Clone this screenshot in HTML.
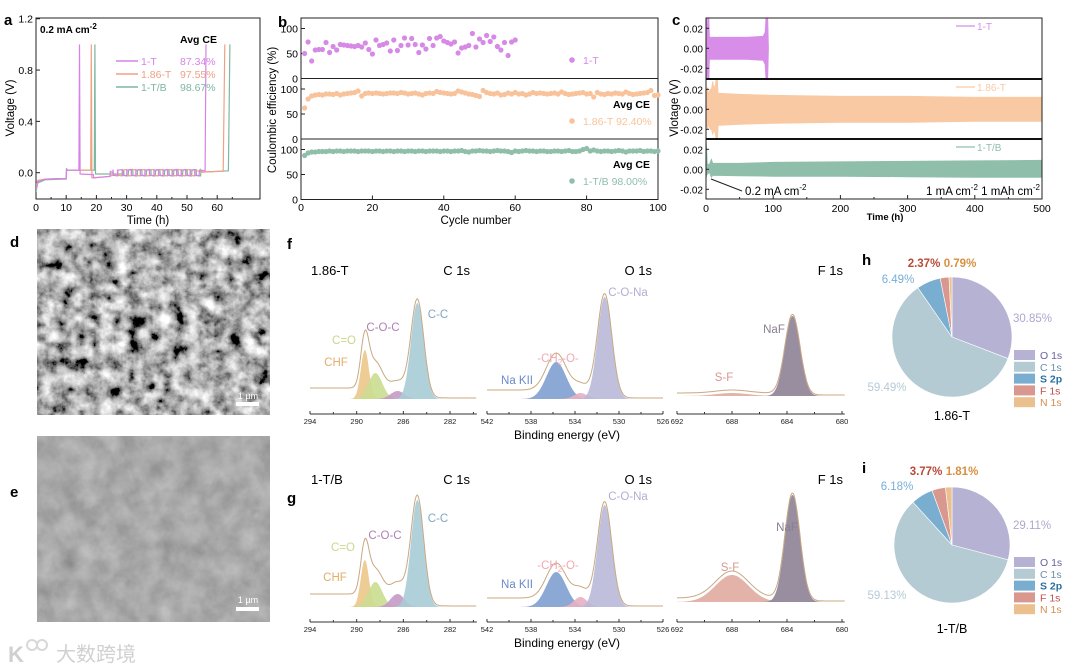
<!DOCTYPE html>
<html><head><meta charset="utf-8"><style>
body{margin:0;background:#fff}
svg{display:block;font-family:"Liberation Sans","Noto Sans CJK SC",sans-serif}
</style></head><body>
<svg id="fig" width="1080" height="666" viewBox="0 0 1080 666" xmlns="http://www.w3.org/2000/svg">
<defs>
<filter id="rough" x="0" y="0" width="100%" height="100%"><feTurbulence type="fractalNoise" baseFrequency="0.07" numOctaves="5" seed="3"/><feColorMatrix type="matrix" values="0.33 0.33 0.33 0 0  0.33 0.33 0.33 0 0  0.33 0.33 0.33 0 0  0 0 0 0 1"/><feComponentTransfer><feFuncR type="linear" slope="3" intercept="-1.05"/><feFuncG type="linear" slope="3" intercept="-1.05"/><feFuncB type="linear" slope="3" intercept="-1.05"/></feComponentTransfer></filter>
<filter id="smooth" x="0" y="0" width="100%" height="100%"><feTurbulence type="fractalNoise" baseFrequency="0.05" numOctaves="4" seed="8"/><feColorMatrix type="matrix" values="0.33 0.33 0.33 0 0  0.33 0.33 0.33 0 0  0.33 0.33 0.33 0 0  0 0 0 0 1"/><feComponentTransfer><feFuncR type="linear" slope="0.5" intercept="0.15"/><feFuncG type="linear" slope="0.5" intercept="0.15"/><feFuncB type="linear" slope="0.5" intercept="0.15"/></feComponentTransfer></filter>
<clipPath id="clipA"><rect x="36" y="18" width="224" height="181"/></clipPath>
<clipPath id="clipC0"><rect x="706" y="18" width="336" height="61"/></clipPath>
<clipPath id="clipC1"><rect x="706" y="79" width="336" height="60"/></clipPath>
<clipPath id="clipC2"><rect x="706" y="139" width="336" height="60"/></clipPath>
</defs>

<g font-weight="bold" font-size="15" fill="#000">
<text x="4" y="25">a</text>
<text x="278" y="27">b</text>
<text x="672" y="25">c</text>
<text x="10" y="247">d</text>
<text x="10" y="497">e</text>
<text x="287" y="249">f</text>
<text x="287" y="503">g</text>
<text x="862" y="265">h</text>
<text x="862" y="473">i</text>
</g>

<g>
<rect x="37" y="229" width="233" height="186" fill="#888" filter="url(#rough)"/>
<rect x="236" y="402" width="23" height="4" fill="#fff"/>
<text x="248" y="399" font-size="9" fill="#fff" text-anchor="middle">1 µm</text>
</g>
<g>
<rect x="37" y="436" width="233" height="186" fill="#6b6b6b" filter="url(#smooth)"/>
<rect x="236" y="607" width="23" height="4" fill="#fff"/>
<text x="248" y="603" font-size="9" fill="#fff" text-anchor="middle">1 µm</text>
</g>
<g fill="#d0d0d0" stroke="#d8d8d8">
<text x="8" y="662" font-size="22" stroke="none" font-weight="bold">K</text>
<circle cx="32" cy="645" r="5" fill="none" stroke-width="2"/><circle cx="42" cy="645" r="5" fill="none" stroke-width="2"/>
<text x="56" y="661" font-size="20" stroke="none">大数跨境</text>
</g>

<g id="gA"></g>
<g id="gB"></g>
<g id="gC"></g>
<g id="gF"></g>
<g id="gG"></g>
<g id="gH"></g>
<g id="gI"></g>
</svg>
<script>
// ---------- Panel a data ----------
const aSeriesNames = ["1-T","1.86-T","1-T/B"];
const aColors = ["#d583e8","#f0a184","#7fb7a0"];
const aAvgCE = ["87.34%","97.55%","98.67%"];
const aKnots1T = [[0,-0.13],[0.6,-0.07],[3,-0.05],[10,-0.045],[10.1,0.02],[14.2,0.02],[14.4,1.0],[14.6,-0.01],[19,-0.015],[19.1,-0.04],[24.5,-0.03],[24.6,0.01],[25.5,0.0]];
const aKnots186 = [[0,-0.1],[0.6,-0.06],[3,-0.05],[10,-0.045],[10.1,0.02],[18.1,0.02],[18.3,1.0],[18.5,-0.04],[24,-0.03],[27,-0.01]];
const aKnotsTB = [[0,-0.15],[0.6,-0.08],[3,-0.055],[10,-0.05],[10.1,0.035],[10.3,0.02],[19.3,0.02],[19.5,1.0],[19.7,-0.01],[29,-0.01]];
const aOscStart = [25.5,27,29];
const aOscEnd = [55,54,55];
const aOscAmp = [0.025,0.025,0.025];
const aTail1T = [[56,0.015],[56.3,1.0]];
const aTail186 = [[55,0.005],[62,0.012],[62.5,1.0]];
const aTailTB = [[55,0.005],[63.7,0.015],[64.2,1.0]];
const aXTicks = [0,10,20,30,40,50,60];
const aYTicks = [0.0,0.4,0.8,1.2];

// ---------- Panel b data ----------
const bCE1T = [50,73,35,57,58,58,72,52,64,57,68,67,66,65,64,66,63,71,58,49,77,66,68,71,55,77,56,66,81,67,80,68,52,67,59,80,66,81,84,75,72,69,73,51,61,63,66,90,63,79,72,86,74,83,64,57,72,46,73,77];
const bCE186 = [62,80,86,88,89,88,90,90,89,91,88,90,91,92,93,96,86,91,92,91,92,91,90,91,92,92,91,93,92,90,91,92,90,88,91,92,91,95,93,92,91,90,91,96,94,92,90,89,87,85,97,93,91,90,92,88,89,92,90,93,90,91,88,90,93,91,92,91,90,91,92,90,94,91,89,90,91,92,93,90,91,84,93,90,89,91,90,92,91,90,94,91,89,90,91,92,93,97,87,88];
const bCETB = [88,93,95,95,96,96,96,97,96,97,97,96,97,97,97,96,97,97,97,96,97,97,96,97,97,96,97,97,96,97,97,96,97,97,96,97,97,97,96,97,97,96,97,97,98,96,95,97,97,98,97,97,96,97,98,97,97,96,94,97,96,97,98,97,97,96,97,97,96,96,97,97,96,97,98,96,96,97,100,102,97,99,97,96,97,97,96,97,98,97,95,97,97,97,98,96,97,97,96,97];
const bColors = ["#d68ae6","#f8c29a","#8fbfaa"];
const bXTicks = [0,20,40,60,80,100];
const bYTicks = [0,50,100];

// ---------- Panel c data ----------
const cT1T = [0,1,2,3,4,5,6,10,30,60,85,88,90,91.5,93];
const cHi1T = [0.04,0.04,-0.005,0.04,0.04,0.012,0.011,0.011,0.011,0.011,0.012,0.016,0.04,0.04,0.0];
const cLo1T = [-0.04,-0.04,0.0,-0.04,-0.04,-0.012,-0.011,-0.011,-0.011,-0.011,-0.012,-0.016,-0.04,-0.04,0.0];
const cT186 = [0,2,4,6,8,10,12,14,15,17,18,20,50,100,200,300,400,500];
const cHi186 = [0.005,0.022,0.015,0.02,0.02,0.028,0.02,0.025,0.03,0.03,0.016,0.016,0.015,0.014,0.013,0.013,0.012,0.012];
const cLo186 = [-0.005,-0.02,-0.015,-0.02,-0.02,-0.025,-0.02,-0.025,-0.03,-0.035,-0.016,-0.016,-0.015,-0.014,-0.013,-0.013,-0.012,-0.012];
const cTTB = [0,1,2,5,8,10,50,100,200,300,400,500];
const cHiTB = [0.03,0.02,0.005,0.005,0.01,0.006,0.006,0.007,0.0075,0.008,0.0085,0.009];
const cLoTB = [-0.01,-0.005,-0.005,-0.003,-0.008,-0.006,-0.0065,-0.007,-0.007,-0.0075,-0.008,-0.008];
const cColors = ["#d88ee9","#f9c9a3","#8fbfaa"];
const cXTicks = [0,100,200,300,400,500];
const cYTicks = [0.02,0.0,-0.02];

// ---------- XPS data ----------
const cPeakNames = ["CHF","C=O","C-O-C","C-C"];
const cPeakCenters = [289.3,288.4,286.5,284.8];
const cPeakSigmas = [0.35,0.6,0.6,0.55];
const cPeakHeightsF = [49,26,8,96];
const cPeakHeightsG = [47,25,13,107];
const oPeakNames = ["Na KII","-CH2-O-","C-O-Na"];
const oPeakCenters = [535.7,533.5,531.3];
const oPeakSigmas = [0.9,0.6,0.65];
const oPeakHeightsF = [37,6,102];
const oPeakHeightsG = [35,10,102];
const fPeakNames = ["S-F","NaF"];
const fPeakCenters = [688.0,683.6];
const fPeakSigmas = [1.2,0.55];
const fPeakHeightsF = [3,80];
const fPeakHeightsG = [27,107];
const cBg = [10,12]; const oBg = [8,8]; const fBg = [2,3];
const cTicks = [294,290,286,282];
const oTicks = [542,538,534,530,526];
const fTicks = [692,688,684,680];

// ---------- Pie data ----------
const pieLabels = ["O 1s","C 1s","S 2p","F 1s","N 1s"];
const pieH = [30.85,59.49,6.49,2.37,0.79];
const pieI = [29.11,59.13,6.18,3.77,1.81];
const pieColors = ["#b5b2d3","#b4cbd3","#7aaed0","#d9988f","#ebc08f"];
const pieTextColors = ["#aca8cf","#b6cad6","#78aed6","#b84a38","#d89040"];
const pieLegendColors = ["#6a60a0","#6a90a8","#2a6fa0","#c0504a","#d09050"];

const NS="http://www.w3.org/2000/svg";
function mk(parent,tag,attrs,text){const e=document.createElementNS(NS,tag);for(const k in attrs)e.setAttribute(k,attrs[k]);if(text!==undefined)e.textContent=text;parent.appendChild(e);return e;}

// ===== Panel a =====
(function(){
const g=document.getElementById('gA');
const X=t=>36+t*3.02, Y=v=>172.7-v*128.3;
const box=mk(g,'rect',{x:36,y:18,width:224,height:181,fill:'none',stroke:'#222','stroke-width':1});


aXTicks.forEach(t=>{mk(g,'line',{x1:X(t),x2:X(t),y1:199,y2:195,stroke:'#222'});
 const tx=mk(g,'text',{x:X(t),y:211,'font-size':10.5,'text-anchor':'middle'},String(t));
 
 });
for(let t=5;t<74;t+=10)mk(g,'line',{x1:X(t),x2:X(t),y1:199,y2:197,stroke:'#222'});
aYTicks.forEach(v=>{mk(g,'line',{x1:36,x2:40,y1:Y(v),y2:Y(v),stroke:'#222'});
 const tx=mk(g,'text',{x:33,y:Y(v)+4,'font-size':10.5,'text-anchor':'end'},v.toFixed(1));
 
 });
const xt=mk(g,'text',{x:148,y:224,'font-size':11.5,'text-anchor':'middle'},'Time (h)');


const yt=mk(g,'text',{x:0,y:0,'font-size':11.5,'text-anchor':'middle',transform:'translate(14,108) rotate(-90)'},'Voltage (V)');


const knots=[aKnots1T,aKnots186,aKnotsTB], tails=[aTail1T,aTail186,aTailTB];
const cg=mk(g,'g',{'clip-path':'url(#clipA)'});
[2,1,0].forEach(i=>{
 let pts=knots[i].slice();
 let t=aOscStart[i],s=1;
 while(t<aOscEnd[i]){pts.push([t,s*aOscAmp[i]]);pts.push([t+0.15,-s*aOscAmp[i]*0.8]);t+=1.5;s=-s;}
 pts=pts.concat(tails[i]);
 const p=mk(cg,'polyline',{points:pts.map(q=>X(q[0]).toFixed(1)+','+Y(q[1]).toFixed(1)).join(' '),fill:'none',stroke:aColors[i],'stroke-width':1.2});
 
 
});
const cur=mk(g,'text',{x:40,y:33,'font-size':10,'font-weight':'bold'},'');
cur.innerHTML='0.2 mA cm<tspan dy="-4" font-size="8">-2</tspan>';


const avg=mk(g,'text',{x:180,y:43,'font-size':10.5,'font-weight':'bold'},'Avg CE');


aSeriesNames.forEach((n,i)=>{const y=61+i*13;
 const le=mk(g,'g',{});
 
 
 mk(le,'line',{x1:116,x2:138,y1:y,y2:y,stroke:aColors[i],'stroke-width':1.5});
 mk(le,'text',{x:141,y:y+4,'font-size':10.5,fill:aColors[i]},n);
 mk(le,'text',{x:180,y:y+4,'font-size':10.5,fill:aColors[i]},aAvgCE[i]);});
})();

// ===== Panel b =====
(function(){
const g=document.getElementById('gB');
const X=c=>301+c*3.57;
const tops=[18,78.5,139];
const data=[bCE1T,bCE186,bCETB];
tops.forEach((y0,k)=>{
 const Y=v=>y0+60.5-v*0.5;
 const fr=mk(g,'rect',{x:301,y:y0,width:357,height:60.5,fill:'none',stroke:'#222'});
 
 
 bYTicks.forEach(v=>{mk(g,'line',{x1:301,x2:305,y1:Y(v),y2:Y(v),stroke:'#222'});
  const t=mk(g,'text',{x:298,y:Y(v)+4,'font-size':10.5,'text-anchor':'end'},String(v));
  
  });
 data[k].forEach((v,i)=>{const c=mk(g,'circle',{cx:X(i+1).toFixed(1),cy:Y(v).toFixed(1),r:2.6,fill:bColors[k]});
  
  });
});
bXTicks.forEach(c=>{mk(g,'line',{x1:X(c),x2:X(c),y1:199.5,y2:195.5,stroke:'#222'});
 const t=mk(g,'text',{x:X(c),y:211,'font-size':10.5,'text-anchor':'middle'},String(c));
 
 });
const xt=mk(g,'text',{x:476,y:224,'font-size':11.5,'text-anchor':'middle'},'Cycle number');


const yt=mk(g,'text',{x:0,y:0,'font-size':11.5,'text-anchor':'middle',transform:'translate(276,110) rotate(-90)'},'Coulombic efficiency (%)');


const leg=[[64,'1-T',''],[125,'1.86-T 92.40%','Avg CE'],[185,'1-T/B 98.00%','Avg CE']];
leg.forEach((l,i)=>{const e=mk(g,'g',{});
 
 
 mk(e,'circle',{cx:572,cy:l[0]-4,r:2.8,fill:bColors[i]});
 mk(e,'text',{x:583,y:l[0],'font-size':10.5,fill:bColors[i]},l[1]);
 if(l[2])mk(e,'text',{x:650,y:l[0]-17,'font-size':10.5,'text-anchor':'end','font-weight':'bold'},l[2]);});
})();

// ===== Panel c =====
(function(){
const g=document.getElementById('gC');
const X=t=>706+t*0.672;
const tops=[18,79,139], names=['1-T','1.86-T','1-T/B'];
const T=[cT1T,cT186,cTTB],H=[cHi1T,cHi186,cHiTB],L=[cLo1T,cLo186,cLoTB];
tops.forEach((y0,k)=>{
 const mid=y0+30.3, Y=v=>mid-v*1000;
 const cg=mk(g,'g',{'clip-path':'url(#clipC'+k+')'});
 const up=T[k].map((t,i)=>X(t).toFixed(1)+','+Y(H[k][i]).toFixed(1));
 const dn=T[k].map((t,i)=>X(t).toFixed(1)+','+Y(L[k][i]).toFixed(1)).reverse();
 const band=mk(cg,'polygon',{points:up.concat(dn).join(' '),fill:cColors[k],stroke:cColors[k],'stroke-width':0.8});
 
 
 const fr=mk(g,'rect',{x:706,y:y0,width:336,height:k==0?61:60,fill:'none',stroke:'#222'});
 
 
 if(k>0)mk(g,'line',{x1:706,x2:1042,y1:y0,y2:y0,stroke:'#111','stroke-width':2});
 cYTicks.forEach(v=>{mk(g,'line',{x1:706,x2:709,y1:Y(v),y2:Y(v),stroke:'#222'});
  const t=mk(g,'text',{x:703,y:Y(v)+4,'font-size':10,'text-anchor':'end'},v.toFixed(2));
  
  });
 const le=mk(g,'g',{});
 
 
 mk(le,'line',{x1:956,x2:975,y1:y0+8,y2:y0+8,stroke:cColors[k],'stroke-width':1.2});
 mk(le,'text',{x:977,y:y0+12,'font-size':10,fill:cColors[k]},names[k]);
});
cXTicks.forEach(t=>{mk(g,'line',{x1:X(t),x2:X(t),y1:199,y2:195,stroke:'#222'});
 const tx=mk(g,'text',{x:X(t),y:212,'font-size':10.5,'text-anchor':'middle'},String(t));
 
 });
for(let t=50;t<500;t+=100)mk(g,'line',{x1:X(t),x2:X(t),y1:199,y2:197,stroke:'#222'});
const xt=mk(g,'text',{x:885,y:220,'font-size':9.5,'text-anchor':'middle','font-weight':'bold'},'Time (h)');


const yt=mk(g,'text',{x:0,y:0,'font-size':11.5,'text-anchor':'middle',transform:'translate(678,108) rotate(-90)'},'Vlotage (V)');


mk(g,'line',{x1:711,x2:742,y1:179,y2:191,stroke:'#222','stroke-width':1});
const a1=mk(g,'text',{x:745,y:195,'font-size':11.5},'');
a1.innerHTML='0.2 mA cm<tspan dy="-5" font-size="8">-2</tspan>';


const a2=mk(g,'text',{x:1040,y:195,'font-size':11.5,'text-anchor':'end'},'');
a2.innerHTML='1 mA cm<tspan dy="-5" font-size="8">-2</tspan><tspan dy="5"> 1 mAh cm</tspan><tspan dy="-5" font-size="8">-2</tspan>';


})();

// ===== XPS =====
function xps(gid,axisY,base,which,title,titleY){
 const g=document.getElementById(gid);
 const regions=[
  {x0:310,e0:294,ppe:11.67,e1:279.7,ticks:cTicks,names:cPeakNames,cen:cPeakCenters,sig:cPeakSigmas,h:which?cPeakHeightsG:cPeakHeightsF,bg:cBg[which],cols:["#ecc68a","#cadd90","#c49ac4","#a9ccd6"],base:base[0],label:'C 1s'},
  {x0:487,e0:542,ppe:11,e1:526,ticks:oTicks,names:oPeakNames,cen:oPeakCenters,sig:oPeakSigmas,h:which?oPeakHeightsG:oPeakHeightsF,bg:oBg[which],cols:["#7f9fd0","#e6b0c2","#b9b8d8"],base:base[1],label:'O 1s'},
  {x0:677,e0:692,ppe:13.75,e1:679.8,ticks:fTicks,names:fPeakNames,cen:fPeakCenters,sig:fPeakSigmas,h:which?fPeakHeightsG:fPeakHeightsF,bg:fBg[which],cols:["#e0aaa0","#8e8296"],base:base[2],label:'F 1s'}];
 regions.forEach((r,ri)=>{
  const X=e=>r.x0+(r.e0-e)*r.ppe;
  const xEnd=X(r.e1);
  const gauss=(k,e)=>r.h[k]*Math.exp(-0.5*Math.pow((e-r.cen[k])/r.sig[k],2));
  const lastC=r.cen[r.cen.length-1];
  const bgf=e=>r.bg/(1+Math.exp(-(e-lastC-0.5)/0.6));
  const es=[];for(let e=r.e0;e>=r.e1;e-=0.05)es.push(e);
  r.cen.forEach((c,k)=>{
   const pts=es.map(e=>X(e).toFixed(1)+','+(r.base-gauss(k,e)).toFixed(1));
   const p=mk(g,'polygon',{points:X(r.e0)+','+r.base+' '+pts.join(' ')+' '+xEnd+','+r.base,fill:r.cols[k],'fill-opacity':0.9});
   
   
  });
  const env=es.map(e=>{let s=bgf(e);r.cen.forEach((c,k)=>s+=gauss(k,e));return X(e).toFixed(1)+','+(r.base-s-1).toFixed(1);});
  const el=mk(g,'polyline',{points:env.join(' '),fill:'none',stroke:'#c9a882','stroke-width':1});
  
  
  mk(g,'line',{x1:X(r.e0),x2:xEnd,y1:axisY,y2:axisY,stroke:'#333'});
  for(let e=r.e0;e>=r.e1-0.01;e-=2)mk(g,'line',{x1:X(e),x2:X(e),y1:axisY,y2:axisY-(((r.e0-e)%4)==0?3:2),stroke:'#333'});
  r.ticks.forEach(e=>{const t=mk(g,'text',{x:X(e),y:axisY+10,'font-size':7.5,'text-anchor':'middle',fill:'#222'},String(e));
   
   });
  const tl=mk(g,'text',{x:[470,652,843][ri],y:titleY,'font-size':13,'text-anchor':'end'},r.label);
  
  
 });
 const st=mk(g,'text',{x:311,y:titleY,'font-size':13},title);
 
 
 const xl=mk(g,'text',{x:567,y:axisY+25,'font-size':12,'text-anchor':'middle'},'Binding energy (eV)');
 
 
}
xps('gF',414,[399,399,396],0,'1.86-T',275);
xps('gG',622,[607,607,602],1,'1-T/B',484);
function peakLabels(gid,items){const g=document.getElementById(gid);
 items.forEach(it=>{const t=mk(g,'text',{x:it[1],y:it[2],'font-size':11.5,'text-anchor':'middle',fill:it[3]},'');
  t.innerHTML=it[0];
  
  });}
peakLabels('gF',[['C-C',438,318,'#7fa8c2'],['C-O-C',383,331,'#b080b4'],['C=O',344,344,'#c8d88a'],['CHF',336,366,'#e3ad6a'],['C-O-Na',628,296,'#b0afd3'],['-CH<tspan font-size="8" dy="3">2</tspan><tspan dy="-3">-O-</tspan>',558,362,'#f0a8b4'],['Na KII',517,384,'#6a8ac8'],['NaF',774,333,'#8a7e92'],['S-F',724,381,'#d89890']]);
peakLabels('gG',[['C-C',438,522,'#7fa8c2'],['C-O-C',385,539,'#b080b4'],['C=O',343,551,'#c8d88a'],['CHF',335,581,'#e3ad6a'],['C-O-Na',628,500,'#b0afd3'],['-CH<tspan font-size="8" dy="3">2</tspan><tspan dy="-3">-O-</tspan>',558,569,'#f0a8b4'],['Na KII',517,588,'#6a8ac8'],['NaF',787,531,'#8a7e92'],['S-F',730,571,'#d89890']]);

// ===== Pies =====
function pie(gid,vals,cx,cy,r,title,ty,legY,labelPos){
 const g=document.getElementById(gid);
 const tot=vals.reduce((a,b)=>a+b,0);
 let a0=-Math.PI/2;
 vals.forEach((v,i)=>{const a1=a0+v/tot*2*Math.PI;
  const large=(a1-a0)>Math.PI?1:0;
  const d=`M${cx},${cy} L${(cx+r*Math.cos(a0)).toFixed(2)},${(cy+r*Math.sin(a0)).toFixed(2)} A${r},${r} 0 ${large} 1 ${(cx+r*Math.cos(a1)).toFixed(2)},${(cy+r*Math.sin(a1)).toFixed(2)} Z`;
  const p=mk(g,'path',{d:d,fill:pieColors[i],stroke:'#fff','stroke-width':0.6});
  
  
  a0=a1;});
 vals.forEach((v,i)=>{const lp=labelPos[i];
  const t=mk(g,'text',{x:lp[0],y:lp[1],'font-size':11.5,'text-anchor':lp[2],fill:pieTextColors[i],'font-weight':i>=3?'bold':'normal'},v.toFixed(2)+'%');
  
  });
 pieLabels.forEach((n,i)=>{const y=legY+i*11.8;
  const e=mk(g,'g',{});
  
  
  mk(e,'rect',{x:1014,y:y-5,width:21,height:10,fill:pieColors[i]});
  mk(e,'text',{x:1040,y:y+4,'font-size':10.5,fill:pieLegendColors[i],'font-weight':i==2?'bold':'normal'},n);});
 const tt=mk(g,'text',{x:cx,y:ty,'font-size':12.5,'text-anchor':'middle'},title);
 
 
}
pie('gH',pieH,952,337,60,'1.86-T',420,355,[[1013,322,'start'],[887,391,'middle'],[898,283,'middle'],[924,267,'middle'],[960,267,'middle']]);
pie('gI',pieI,952,545,58,'1-T/B',633,562,[[1013,529,'start'],[887,599,'middle'],[897,490,'middle'],[926,475,'middle'],[962,475,'middle']]);
</script>
</body></html>
